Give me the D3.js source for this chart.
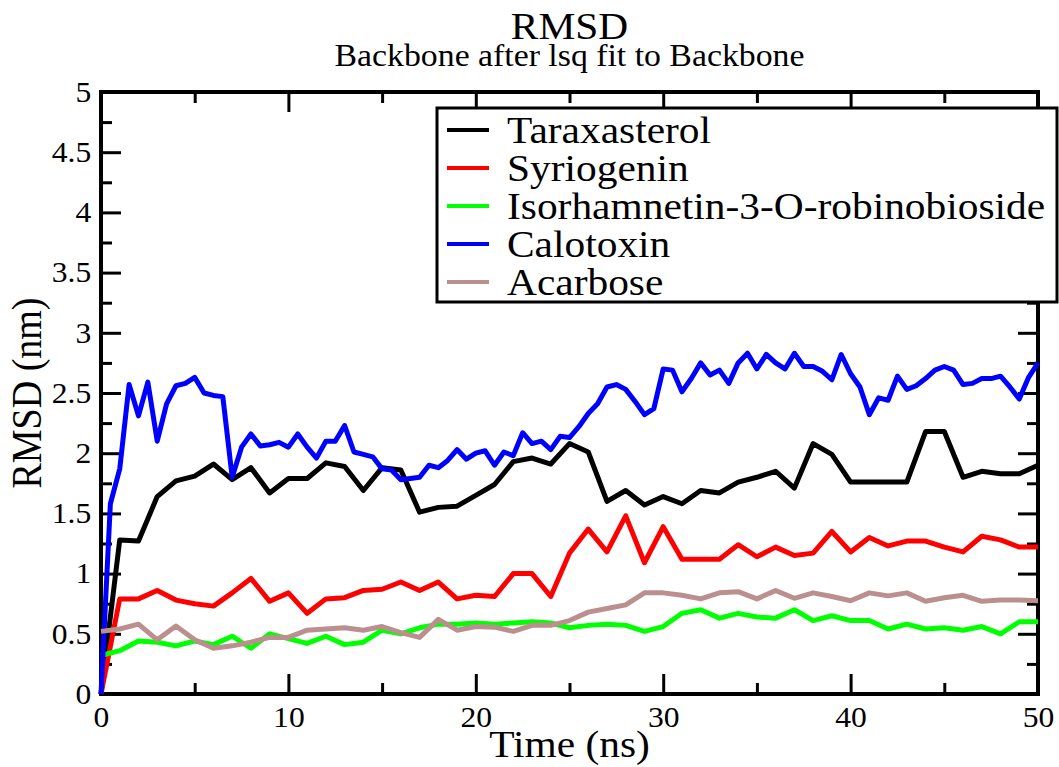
<!DOCTYPE html>
<meta charset="utf-8">
<head>
    <style>
        body {
            margin: 0;
            background-color: #ffffff;
        }
        svg text {
            font-family: "Liberation Serif", Tinos, "Times New Roman", Times, "DejaVu Serif", serif !important;
            fill: #000000;
        }
        .frame {
            fill: none;
            stroke: #000000;
            stroke-width: 4px;
        }
        .tick line {
            stroke: #000000;
            stroke-width: 3px;
        }
        .domain {
            display: none;
        }
        .series {
            fill: none;
            stroke-width: 5px;
            stroke-linejoin: round;
        }
    </style>
    <script src="https://d3js.org/d3.v7.min.js"></script>
</head>

<body>
    <div id="chart"></div>
</body>

<script>
// time axis, ns (most sets every 1 ns, Calotoxin every 0.5 ns)
var timeNs = d3.range(0, 51, 1);
var timeNsFine = d3.range(0, 50.5, 0.5);

var seriesNames = ["Taraxasterol", "Syriogenin", "Isorhamnetin-3-O-robinobioside", "Calotoxin", "Acarbose"];
var seriesColors = ["#000000", "#ff0000", "#00ff00", "#0000ff", "#bc8f8f"];

var taraxasterol = [
    0, 1.28, 1.27, 1.64, 1.77, 1.81, 1.91, 1.78, 1.88, 1.67,
    1.79, 1.79, 1.92, 1.89, 1.69, 1.88, 1.86, 1.51, 1.55, 1.56,
    1.65, 1.74, 1.93, 1.96, 1.91, 2.08, 2.01, 1.60, 1.69, 1.57,
    1.64, 1.58, 1.69, 1.67, 1.76, 1.80, 1.85, 1.71, 2.08, 1.99,
    1.76, 1.76, 1.76, 1.76, 2.18, 2.18, 1.80, 1.85, 1.83, 1.83,
    1.90];

var syriogenin = [
    0, 0.79, 0.79, 0.86, 0.78, 0.75, 0.73, 0.84, 0.96, 0.77,
    0.84, 0.67, 0.79, 0.80, 0.86, 0.87, 0.93, 0.86, 0.93, 0.79,
    0.82, 0.81, 1.00, 1.00, 0.81, 1.17, 1.37, 1.18, 1.48, 1.09,
    1.39, 1.12, 1.12, 1.12, 1.24, 1.14, 1.22, 1.15, 1.17, 1.35,
    1.18, 1.30, 1.23, 1.27, 1.27, 1.22, 1.18, 1.31, 1.28, 1.22,
    1.22];

var isorhamnetin = [
    0.32, 0.36, 0.44, 0.43, 0.40, 0.44, 0.41, 0.48, 0.38, 0.50,
    0.46, 0.42, 0.48, 0.41, 0.43, 0.53, 0.50, 0.55, 0.58, 0.58,
    0.59, 0.58, 0.59, 0.60, 0.59, 0.55, 0.57, 0.58, 0.57, 0.52,
    0.56, 0.67, 0.70, 0.63, 0.67, 0.64, 0.63, 0.70, 0.61, 0.65,
    0.61, 0.61, 0.54, 0.58, 0.54, 0.55, 0.53, 0.56, 0.50, 0.60,
    0.60];

var calotoxin = [
    0, 1.58, 1.87, 2.57, 2.31, 2.59, 2.10, 2.41, 2.56, 2.58,
    2.63, 2.50, 2.48, 2.47, 1.80, 2.05, 2.16, 2.06, 2.07, 2.09,
    2.05, 2.16, 2.05, 1.96, 2.10, 2.10, 2.23, 2.01, 1.99, 1.97,
    1.87, 1.86, 1.78, 1.79, 1.80, 1.90, 1.88, 1.94, 2.03, 1.95,
    2.00, 2.02, 1.90, 2.01, 1.98, 2.17, 2.08, 2.10, 2.03, 2.14,
    2.13, 2.22, 2.33, 2.41, 2.55, 2.57, 2.53, 2.43, 2.32, 2.37,
    2.70, 2.69, 2.51, 2.62, 2.75, 2.65, 2.69, 2.58, 2.75, 2.83,
    2.70, 2.82, 2.75, 2.70, 2.83, 2.72, 2.72, 2.68, 2.61, 2.82,
    2.66, 2.55, 2.32, 2.46, 2.44, 2.64, 2.53, 2.56, 2.62, 2.69,
    2.72, 2.69, 2.57, 2.58, 2.62, 2.62, 2.64, 2.55, 2.45, 2.63,
    2.75];

var acarbose = [
    0.52, 0.54, 0.58, 0.45, 0.565, 0.45, 0.38, 0.40, 0.43, 0.47,
    0.47, 0.53, 0.54, 0.55, 0.53, 0.56, 0.51, 0.47, 0.62, 0.53,
    0.56, 0.555, 0.52, 0.57, 0.57, 0.61, 0.68, 0.71, 0.74, 0.84,
    0.84, 0.82, 0.79, 0.84, 0.85, 0.79, 0.86, 0.795, 0.84, 0.81,
    0.775, 0.84, 0.815, 0.84, 0.77, 0.80, 0.82, 0.77, 0.78, 0.78,
    0.775];

var xMajor = [0, 10, 20, 30, 40, 50];
var xMinor = [5, 15, 25, 35, 45];
var yMajor = [0, 0.5, 1, 1.5, 2, 2.5, 3, 3.5, 4, 4.5, 5];
var yMinor = [0.25, 0.75, 1.25, 1.75, 2.25, 2.75, 3.25, 3.75, 4.25, 4.75];

var sets = [
    { t: timeNs, v: taraxasterol },
    { t: timeNs, v: syriogenin },
    { t: timeNs, v: isorhamnetin },
    { t: timeNsFine, v: calotoxin },
    { t: timeNs, v: acarbose }
];

// layout
var W = 1059, H = 767;
var margin = { top: 92, right: 21, bottom: 73, left: 101 };
var width = W - margin.left - margin.right;
var height = H - margin.top - margin.bottom;
var stretch = "scale(1.09,1)";   // glyphs are a little wider than tall in the original
var serif = '"Liberation Serif", Tinos, "Times New Roman", Times, "DejaVu Serif", serif';

var x = d3.scaleLinear().domain([0, 50]).range([0, width]);
var y = d3.scaleLinear().domain([0, 5]).range([height, 0]);

var svg = d3.select("#chart").append("svg")
    .attr("width", W)
    .attr("height", H)
    .attr("font-family", serif);

var g = svg.append("g")
    .attr("transform", "translate(" + margin.left + "," + margin.top + ")");

// titles
svg.append("text")
    .attr("transform", "translate(" + (margin.left + width / 2) + ",39) " + stretch)
    .attr("text-anchor", "middle")
    .style("font-family", serif)
    .style("font-size", "38px")
    .text("RMSD");

svg.append("text")
    .attr("transform", "translate(" + (margin.left + width / 2) + ",66) " + stretch)
    .attr("text-anchor", "middle")
    .style("font-family", serif)
    .style("font-size", "31px")
    .text("Backbone after lsq fit to Backbone");

// ticks on all four sides, pointing inward
function addAxis(axis, transform) {
    var a = g.append("g").attr("transform", transform).call(axis);
    a.attr("font-family", serif);
    return a;
}

addAxis(d3.axisBottom(x).tickValues(xMajor).tickSize(-20).tickPadding(12).tickFormat(d3.format("d")), "translate(0," + height + ")")
    .selectAll("text").style("font-family", serif).style("font-size", "29px").attr("transform", stretch);
addAxis(d3.axisBottom(x).tickValues(xMinor).tickSize(-11).tickFormat(""), "translate(0," + height + ")");
addAxis(d3.axisTop(x).tickValues(xMajor).tickSize(-20).tickFormat(""), "translate(0,0)");
addAxis(d3.axisTop(x).tickValues(xMinor).tickSize(-11).tickFormat(""), "translate(0,0)");

addAxis(d3.axisLeft(y).tickValues(yMajor).tickSize(-20).tickPadding(9).tickFormat(function (d) { return String(d); }), "translate(0,0)")
    .selectAll("text").style("font-family", serif).style("font-size", "29px").attr("transform", stretch);
addAxis(d3.axisLeft(y).tickValues(yMinor).tickSize(-11).tickFormat(""), "translate(0,0)");
addAxis(d3.axisRight(y).tickValues(yMajor).tickSize(-20).tickFormat(""), "translate(" + width + ",0)");
addAxis(d3.axisRight(y).tickValues(yMinor).tickSize(-11).tickFormat(""), "translate(" + width + ",0)");

g.append("rect")
    .attr("class", "frame")
    .attr("x", 0).attr("y", 0)
    .attr("width", width).attr("height", height);

// axis labels
svg.append("text")
    .attr("transform", "translate(" + (margin.left + width / 2) + ",757) " + stretch)
    .attr("text-anchor", "middle")
    .style("font-family", serif)
    .style("font-size", "38px")
    .text("Time (ns)");

svg.append("text")
    .attr("transform", "translate(41," + (margin.top + height / 2) + ") " + stretch + " rotate(-90)")
    .attr("text-anchor", "middle")
    .style("font-family", serif)
    .style("font-size", "38px")
    .text("RMSD (nm)");

// data lines
var line = d3.line()
    .x(function (d) { return x(d[0]); })
    .y(function (d) { return y(d[1]); });

g.selectAll(".series")
    .data(sets)
    .enter().append("path")
    .attr("class", "series")
    .attr("stroke", function (d, i) { return seriesColors[i]; })
    .attr("d", function (d) { return line(d3.zip(d.t, d.v)); });

// legend
var legend = svg.append("g").attr("transform", "translate(437,108)");

legend.append("rect")
    .attr("width", 620).attr("height", 194)
    .attr("fill", "#ffffff")
    .attr("stroke", "#000000")
    .attr("stroke-width", 3);

var rowY = d3.scalePoint().domain(seriesNames).range([22, 174]);

var items = legend.selectAll(".item")
    .data(seriesNames)
    .enter().append("g")
    .attr("class", "item")
    .attr("transform", function (d) { return "translate(0," + rowY(d) + ")"; });

items.append("line")
    .attr("x1", 10).attr("x2", 52)
    .attr("stroke", function (d, i) { return seriesColors[i]; })
    .attr("stroke-width", 4);

items.append("text")
    .attr("transform", "translate(70,13) " + stretch)
    .style("font-family", serif)
    .style("font-size", "38px")
    .text(function (d) { return d; });
</script>
